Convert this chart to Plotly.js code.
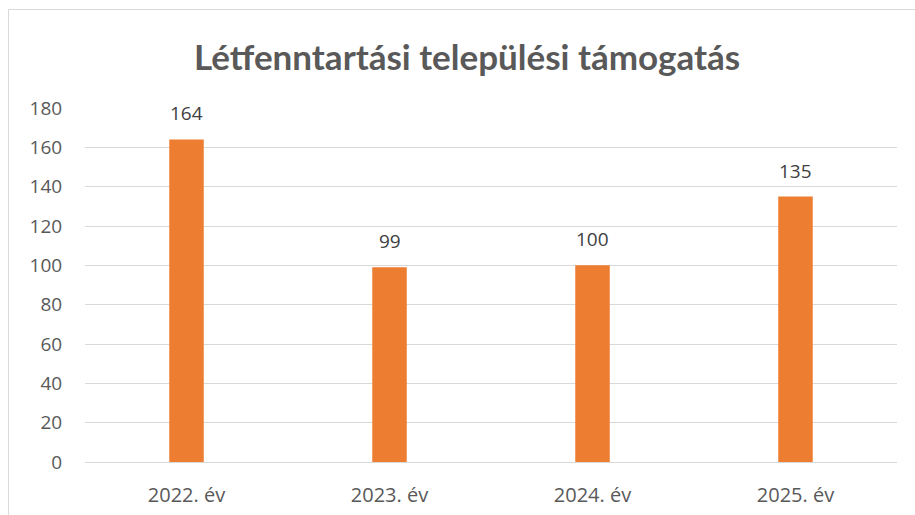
<!DOCTYPE html>
<html><head><meta charset="utf-8">
<script src="https://cdn.plot.ly/plotly-3.0.1.min.js"></script>
<style>body{margin:0;padding:0;background:#fff}#chart{width:915px;height:515px}</style>
</head><body><div id="chart"></div>
<script>
var categories = ["2022. év", "2023. év", "2024. év", "2025. év"];
var values = [164, 99, 100, 135];
var yTicks = [0, 20, 40, 60, 80, 100, 120, 140, 160, 180];

var trace = {
  type: 'bar', x: categories, y: values,
  marker: {color: '#ED7D31'},
  hoverinfo: 'x+y'
};
var annotations = categories.map(function(c, i){
  return {x: c, y: values[i], xref: 'x', yref: 'y', text: String(values[i]),
    showarrow: false, yanchor: 'bottom', yshift: 11,
    font: {family: 'Open Sans, sans-serif', size: 19, color: '#404040'}};
});
annotations.push({xref: 'paper', yref: 'paper', x: (467-85)/812, y: (462-56)/354,
  xanchor: 'center', yanchor: 'middle', showarrow: false,
  text: '<b>Létfenntartási települési támogatás</b>',
  font: {family: 'Lato, sans-serif', size: 35, color: '#595959'}});

var layout = {
  width: 915, height: 515,
  margin: {l: 85, r: 18, t: 108, b: 53},
  paper_bgcolor: '#fff', plot_bgcolor: '#fff',
  bargap: 0.83,
  showlegend: false,
  xaxis: {type: 'category', showgrid: false, zeroline: false, showline: false,
    ticks: 'outside', ticklen: 15, tickcolor: 'rgba(0,0,0,0)',
    tickfont: {family: 'Open Sans, sans-serif', size: 20, color: '#595959'}},
  yaxis: {range: [0, 180], tickvals: yTicks, showgrid: true, gridcolor: '#d9d9d9', gridwidth: 1,
    zeroline: true, zerolinecolor: '#d9d9d9', zerolinewidth: 1, showline: false,
    ticks: 'outside', ticklen: 18, tickcolor: 'rgba(0,0,0,0)',
    tickfont: {family: 'Open Sans, sans-serif', size: 19, color: '#595959'}},
  annotations: annotations,
  shapes: [{type: 'rect', xref: 'paper', yref: 'paper',
    x0: (8.5-85)/812, x1: 2, y0: -1, y1: (462-9.5)/354,
    line: {color: '#d9d9d9', width: 1}, fillcolor: 'rgba(0,0,0,0)', layer: 'below'}]
};
Plotly.newPlot('chart', [trace], layout, {displayModeBar: false, staticPlot: true});
</script></body></html>
